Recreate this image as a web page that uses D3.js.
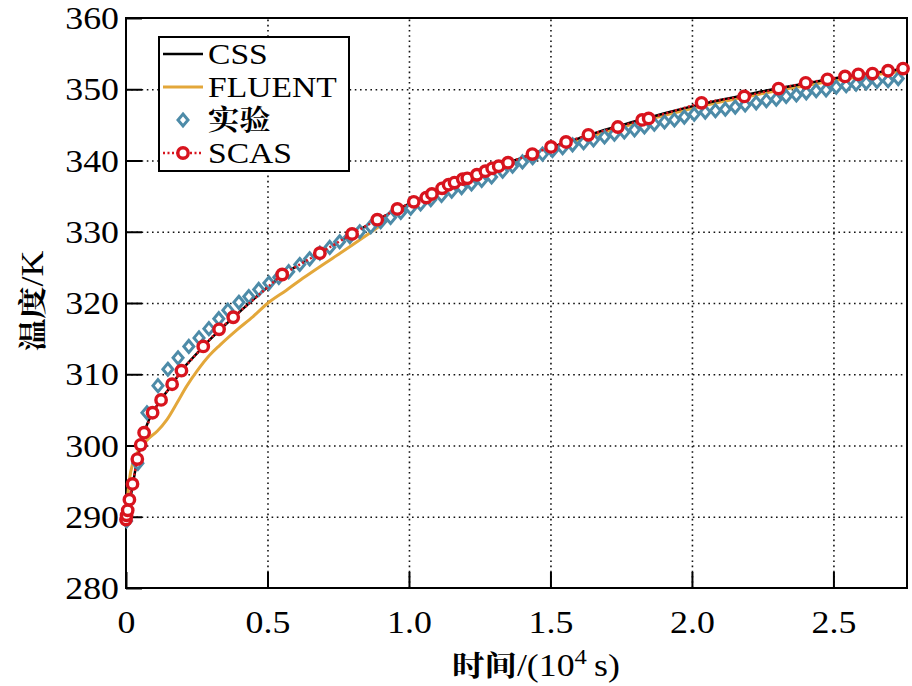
<!doctype html>
<html>
<head>
<meta charset="utf-8">
<style>
    body { margin: 0; background: #fff; }
    svg { display: block; }
    text { font-family: 'Liberation Serif', 'Times New Roman', serif; fill: #000; }
    .tick text { font-size: 32px; }
    .grid line { stroke: #111; stroke-width: 1.6; stroke-dasharray: 1.6 3.6; }
    .grid path { stroke-width: 0; }
    .axis line { stroke: #000; stroke-width: 2; }
    .axis path { stroke-width: 0; }
    .cjk { font-family: 'Noto Serif CJK SC', 'Noto Sans CJK SC', serif; font-weight: 700; }
    text.legend { font-size: 31px; }
</style>
<script src="https://d3js.org/d3.v7.min.js"></script>
</head>
<body>
<svg width="912" height="686"></svg>
<script>
// time in 10^4 s, temperature in K
const timeTicks = [0, 0.5, 1.0, 1.5, 2.0, 2.5];
const timeTickLabels = ['0', '0.5', '1.0', '1.5', '2.0', '2.5'];
const tempTicks = [280, 290, 300, 310, 320, 330, 340, 350, 360];
const seriesNames = ['CSS', 'FLUENT', '实验', 'SCAS'];

const cssData = [
    [0, 289.5], [0.01, 291.5], [0.02, 293.6], [0.03, 295.9], [0.04, 298.0], [0.06, 301.2],
    [0.08, 303.5], [0.1, 305.0], [0.13, 306.8], [0.16, 308.4], [0.2, 310.7], [0.25, 312.9],
    [0.3, 315.0], [0.35, 316.9], [0.4, 318.7], [0.5, 322.2], [0.6, 325.1], [0.7, 327.3],
    [0.8, 329.7], [0.9, 331.9], [1.0, 333.9], [1.1, 335.8], [1.2, 337.5], [1.3, 339.0],
    [1.4, 340.4], [1.5, 341.8], [1.6, 343.1], [1.7, 344.4], [1.8, 345.5], [1.9, 346.6],
    [2.0, 347.6], [2.1, 348.5], [2.2, 349.3], [2.3, 350.1], [2.4, 350.8], [2.5, 351.5],
    [2.6, 352.1], [2.7, 352.6], [2.76, 352.9]
];

const fluentData = [
    [0, 289.5], [0.005, 292.5], [0.012, 295.2], [0.025, 297.6], [0.04, 299.0], [0.06, 300.1],
    [0.08, 301.0], [0.11, 302.0], [0.144, 303.6], [0.179, 305.9], [0.214, 308.3], [0.25, 310.4],
    [0.296, 312.7], [0.332, 314.1], [0.391, 316.2], [0.449, 318.1], [0.502, 320.0], [0.567, 321.8],
    [0.626, 323.5], [0.685, 325.1], [0.75, 326.8], [0.85, 329.5], [0.95, 332.3], [1.0, 333.6],
    [1.1, 335.5], [1.2, 337.2], [1.3, 338.7], [1.4, 340.1], [1.5, 341.5], [1.6, 342.8],
    [1.7, 344.1], [1.8, 345.2], [1.9, 346.3], [2.0, 347.3], [2.1, 348.2], [2.2, 349.0],
    [2.3, 349.8], [2.4, 350.5], [2.5, 351.2], [2.6, 351.8], [2.7, 352.3], [2.76, 352.6]
];

const expData = [
    [0.002, 289.4], [0.042, 297.5], [0.074, 304.6], [0.113, 308.4], [0.148, 310.7], [0.184, 312.3],
    [0.222, 313.9], [0.258, 315.1], [0.293, 316.4], [0.328, 317.8], [0.360, 319.0], [0.399, 320.1],
    [0.434, 320.9], [0.469, 321.9], [0.505, 322.8], [0.540, 323.6], [0.575, 324.4], [0.614, 325.4],
    [0.649, 326.2], [0.685, 327.0], [0.720, 327.8], [0.755, 328.6], [0.791, 329.3], [0.826, 330.0],
    [0.865, 330.7], [0.900, 331.4], [0.935, 332.0], [0.971, 332.7], [1.006, 333.3], [1.041, 333.9],
    [1.077, 334.5], [1.115, 335.1], [1.151, 335.7], [1.186, 336.2], [1.221, 336.7], [1.257, 337.2],
    [1.292, 337.7], [1.331, 338.5], [1.366, 339.2], [1.401, 339.8], [1.437, 340.4], [1.472, 340.9],
    [1.507, 341.4], [1.543, 341.8], [1.578, 342.2], [1.617, 342.5], [1.652, 342.9], [1.691, 343.3],
    [1.726, 343.7], [1.761, 344.0], [1.797, 344.3], [1.832, 344.7], [1.867, 345.1], [1.903, 345.4],
    [1.938, 345.7], [1.973, 346.1], [2.008, 346.5], [2.047, 346.8], [2.083, 347.0], [2.118, 347.2],
    [2.153, 347.5], [2.188, 347.8], [2.227, 348.1], [2.263, 348.4], [2.298, 348.6], [2.333, 349.0],
    [2.369, 349.2], [2.404, 349.5], [2.439, 349.8], [2.474, 349.9], [2.510, 350.3], [2.545, 350.5],
    [2.580, 350.7], [2.616, 350.9], [2.654, 351.1], [2.693, 351.2], [2.729, 351.5]
];

const scasData = [
    [0.000, 289.6], [0.002, 290.2], [0.006, 290.9], [0.012, 292.4], [0.023, 294.6], [0.040, 298.1],
    [0.052, 300.1], [0.064, 301.8], [0.094, 304.6], [0.124, 306.4], [0.163, 308.6], [0.196, 310.5],
    [0.273, 313.9], [0.329, 316.3], [0.379, 318.0], [0.552, 324.0], [0.685, 327.0], [0.799, 329.7],
    [0.888, 331.7], [0.959, 333.2], [1.017, 334.2], [1.061, 334.8], [1.081, 335.3], [1.117, 336.1],
    [1.140, 336.6], [1.161, 336.9], [1.190, 337.4], [1.206, 337.5], [1.240, 338.0], [1.270, 338.5],
    [1.294, 338.9], [1.317, 339.2], [1.350, 339.7], [1.436, 340.9], [1.502, 341.9], [1.555, 342.6],
    [1.634, 343.6], [1.738, 344.7], [1.824, 345.7], [1.847, 345.9], [2.034, 348.1], [2.185, 349.0],
    [2.306, 350.1], [2.402, 350.9], [2.479, 351.4], [2.541, 351.8], [2.588, 352.1], [2.638, 352.2],
    [2.693, 352.6], [2.746, 352.9]
];

const colors = { css: '#000000', fluent: '#E3A73A', exp: '#4D8BA8', scas: '#D8141E' };

// the source figure's lettering is a little wider than the font
const stretch = 1.12;

const svg = d3.select('svg');

const plotLeft = 126, plotTop = 18, plotRight = 907, plotBottom = 588;
const width = plotRight - plotLeft;
const height = plotBottom - plotTop;

const chart = svg.append('g')
    .attr('transform', `translate(${plotLeft}, ${plotTop})`);

const xScale = d3.scaleLinear().domain([0, 2.76]).range([0, width]);
const yScale = d3.scaleLinear().domain([280, 360]).range([height, 0]);

// dotted grid
chart.append('g')
    .attr('class', 'grid')
    .attr('transform', `translate(0, ${height})`)
    .call(d3.axisBottom(xScale).tickValues(timeTicks.slice(1)).tickSize(-height).tickFormat(''));

chart.append('g')
    .attr('class', 'grid')
    .call(d3.axisLeft(yScale).tickValues(tempTicks.slice(1, -1)).tickSize(-width).tickFormat(''));

// axes, ticks pointing inward
chart.append('g')
    .attr('class', 'axis')
    .attr('transform', `translate(0, ${height})`)
    .call(d3.axisBottom(xScale).tickValues(timeTicks).tickSize(-16)
        .tickFormat((d, i) => timeTickLabels[i]))
    .selectAll('text')
    .attr('dy', null)
    .attr('y', 45)
    .attr('transform', `scale(${stretch}, 1)`);

chart.append('g')
    .attr('class', 'axis')
    .call(d3.axisLeft(yScale).tickValues(tempTicks).tickSize(-16).tickFormat(d3.format('d')))
    .selectAll('text')
    .attr('x', -7 / stretch)
    .attr('dy', '0.33em')
    .attr('transform', `scale(${stretch}, 1)`);

chart.append('rect')
    .attr('width', width)
    .attr('height', height)
    .attr('fill', 'none')
    .attr('stroke', '#000')
    .attr('stroke-width', 2);

const line = d3.line()
    .x((d) => xScale(d[0]))
    .y((d) => yScale(d[1]))
    .curve(d3.curveMonotoneX);

chart.append('path')
    .datum(fluentData)
    .attr('d', line)
    .attr('fill', 'none')
    .attr('stroke', colors.fluent)
    .attr('stroke-width', 3);

chart.append('path')
    .datum(cssData)
    .attr('d', line)
    .attr('fill', 'none')
    .attr('stroke', colors.css)
    .attr('stroke-width', 2.5);

const diamond = (w, h) => `M0,${-h}L${w},0L0,${h}L${-w},0Z`;

chart.selectAll('.exp')
    .data(expData)
    .enter()
    .append('path')
    .attr('class', 'exp')
    .attr('transform', (d) => `translate(${xScale(d[0])}, ${yScale(d[1])})`)
    .attr('d', diamond(5, 6))
    .attr('fill', '#fff')
    .attr('stroke', colors.exp)
    .attr('stroke-width', 3);

chart.append('path')
    .datum(scasData)
    .attr('d', d3.line().x((d) => xScale(d[0])).y((d) => yScale(d[1])))
    .attr('fill', 'none')
    .attr('stroke', colors.scas)
    .attr('stroke-width', 2.5)
    .attr('stroke-dasharray', '2 2.5');

chart.selectAll('.scas')
    .data(scasData)
    .enter()
    .append('circle')
    .attr('class', 'scas')
    .attr('cx', (d) => xScale(d[0]))
    .attr('cy', (d) => yScale(d[1]))
    .attr('r', 5.2)
    .attr('fill', '#fff')
    .attr('stroke', colors.scas)
    .attr('stroke-width', 3.4);

// legend
const legend = svg.append('g');

legend.append('rect')
    .attr('x', 159)
    .attr('y', 37)
    .attr('width', 190)
    .attr('height', 134)
    .attr('fill', '#fff')
    .attr('stroke', '#000')
    .attr('stroke-width', 2);

const rowY = [54, 87, 120, 153];

legend.append('line').attr('x1', 163).attr('x2', 203).attr('y1', rowY[0]).attr('y2', rowY[0])
    .attr('stroke', colors.css).attr('stroke-width', 2.5);
legend.append('line').attr('x1', 163).attr('x2', 203).attr('y1', rowY[1]).attr('y2', rowY[1])
    .attr('stroke', colors.fluent).attr('stroke-width', 3);
legend.append('path').attr('transform', `translate(183, ${rowY[2]})`).attr('d', diamond(5, 6))
    .attr('fill', '#fff').attr('stroke', colors.exp).attr('stroke-width', 3);
legend.append('line').attr('x1', 163).attr('x2', 203).attr('y1', rowY[3]).attr('y2', rowY[3])
    .attr('stroke', colors.scas).attr('stroke-width', 2.5).attr('stroke-dasharray', '2 2.5');
legend.append('circle').attr('cx', 183).attr('cy', rowY[3]).attr('r', 5.2)
    .attr('fill', '#fff').attr('stroke', colors.scas).attr('stroke-width', 3.4);

legend.selectAll('.legend')
    .data(seriesNames)
    .enter()
    .append('text')
    .attr('class', (d, i) => i === 2 ? 'legend cjk' : 'legend')
    .attr('transform', (d, i) => `translate(208, ${rowY[i] + 10}) scale(${stretch}, 1)`)
    .style('font-size', (d, i) => i === 2 ? '28px' : '30px')
    .text((d) => d);

// axis titles
const xTitle = svg.append('text')
    .attr('transform', `translate(536, 676) scale(${stretch}, 1)`)
    .attr('text-anchor', 'middle')
    .style('font-size', '32px');
xTitle.append('tspan').attr('class', 'cjk').style('font-size', '29px').text('时间');
xTitle.append('tspan').text('/(10');
xTitle.append('tspan').attr('dy', -12).style('font-size', '22px').text('4');
xTitle.append('tspan').attr('dy', 12).text('\u2009s)');

const yTitle = svg.append('text')
    .attr('transform', `translate(43, 301) rotate(-90) scale(${stretch}, 1)`)
    .attr('text-anchor', 'middle')
    .style('font-size', '32px');
yTitle.append('tspan').attr('class', 'cjk').style('font-size', '29px').text('温度');
yTitle.append('tspan').text('/K');
</script>
</body>
</html>
